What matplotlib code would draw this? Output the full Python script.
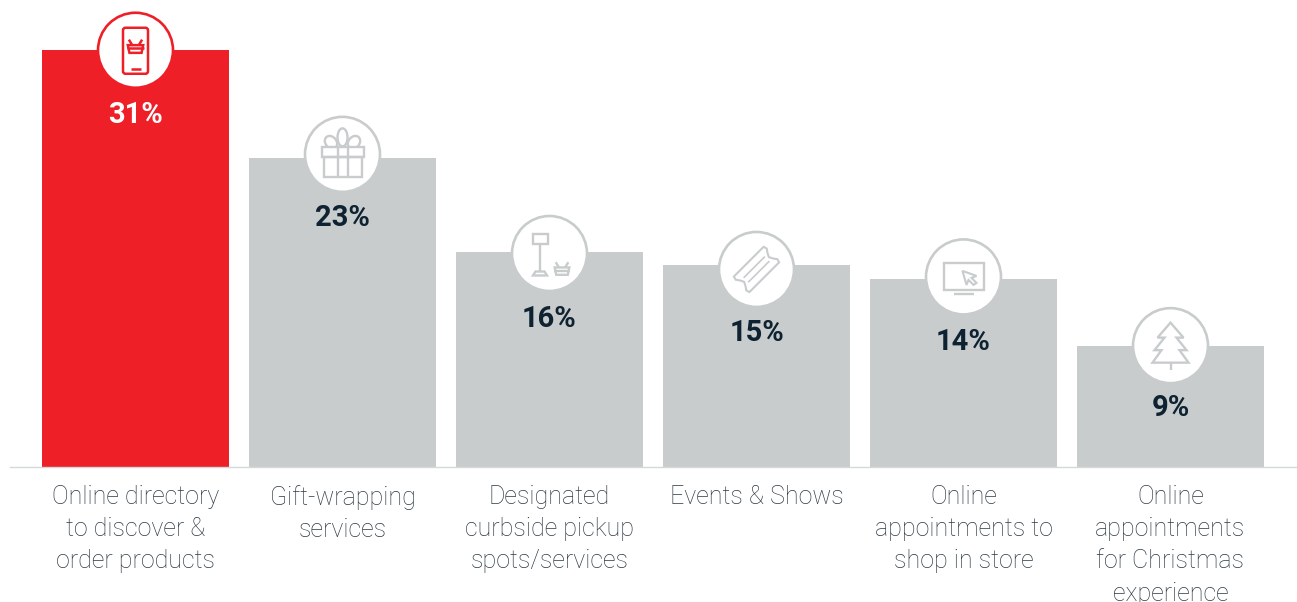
import matplotlib
matplotlib.use("Agg")
import matplotlib.pyplot as plt
from matplotlib.patches import Circle, Ellipse, Polygon, Rectangle, FancyBboxPatch
from matplotlib.transforms import Affine2D
import numpy as np

categories = ["Online directory\nto discover &\norder products",
              "Gift-wrapping\nservices",
              "Designated\ncurbside pickup\nspots/services",
              "Events & Shows",
              "Online\nappointments to\nshop in store",
              "Online\nappointments\nfor Christmas\nexperience"]
values = [31, 23, 16, 15, 14, 9]

RED = "#ee1f26"
GREY = "#c8cccd"
DARK = "#0e2231"
TEXT = "#2c3a43"

plt.rcParams["font.family"] = ["Roboto", "DejaVu Sans"]

fig = plt.figure(figsize=(12.97, 6.02), dpi=100)
ax = fig.add_axes([10/1297, 135/602, 1287/1297, 467/602])
ax.set_xlim(-125.5/207, 1161.5/207)
ax.set_ylim(0, 467/13.45)

colors = [RED] + [GREY]*5
ax.bar(range(len(values)), values, width=187/207, color=colors, linewidth=0)

for s in ["top", "left", "right"]:
    ax.spines[s].set_visible(False)
ax.spines["bottom"].set_color("#d5d8d9")
ax.spines["bottom"].set_linewidth(1)
ax.set_yticks([])
ax.set_xticks(range(len(values)))
ax.set_xticklabels(categories, fontsize=18, color=TEXT, fontweight="light", linespacing=1.43)
ax.tick_params(axis="x", length=0, pad=13)


def local(i, dy):
    # pixel space centred on the top of bar i, y pointing down
    x, y = ax.transData.transform((i, values[i]))
    return Affine2D().scale(1, -1).translate(x, y - dy)


def stroke(t, col, xs, ys, lw=1.7):
    ax.plot(xs, ys, color=col, lw=lw, transform=t, clip_on=False, zorder=5,
            solid_capstyle="butt", solid_joinstyle="miter")


def poly(t, col, pts, lw=1.7):
    ax.add_patch(Polygon(pts, closed=True, fill=False, edgecolor=col, lw=lw,
                         transform=t, clip_on=False, zorder=5))


def basket(t, col, cx, cy, s=1.0, lw=1.7):
    poly(t, col, [(cx-7*s, cy-1*s), (cx+7*s, cy-1*s), (cx+5.5*s, cy+6*s), (cx-5.5*s, cy+6*s)], lw)
    stroke(t, col, [cx-8*s, cx+8*s], [cy+2*s, cy+2*s], lw)
    stroke(t, col, [cx-6*s, cx-3*s], [cy-6*s, cy-1*s], lw)
    stroke(t, col, [cx+6*s, cx+3*s], [cy-6*s, cy-1*s], lw)


def icon_phone(t, col):
    ax.add_patch(FancyBboxPatch((-12.5, -22.5), 25, 46, boxstyle="round,pad=0,rounding_size=2.5",
                                fill=False, edgecolor=col, lw=1.8, transform=t, clip_on=False, zorder=5))
    basket(t, col, 0, -4, 1.1, 1.8)
    stroke(t, col, [-5, 5], [19, 19], 1.8)


def icon_gift(t, col):
    poly(t, col, [(-19, 3), (19, 3), (19, 23), (-19, 23)])
    stroke(t, col, [-5, -5], [-7, 23])
    stroke(t, col, [5, 5], [-7, 23])
    for cx, cy, w, h, a in [(0, -17, 10, 18, 0), (-11.5, -12, 11, 14, -40), (11.5, -12, 11, 14, 40)]:
        ax.add_patch(Ellipse((cx, cy), w, h, angle=a, fill=False, edgecolor=col, lw=1.7,
                             transform=t, clip_on=False, zorder=4.9))
    ax.add_patch(Rectangle((-21, -7), 42, 10, facecolor="white", edgecolor=col, lw=1.7,
                           transform=t, clip_on=False, zorder=4.95))


def icon_sign(t, col):
    poly(t, col, [(-17, -19), (-2, -19), (-2, -9), (-17, -9)])
    stroke(t, col, [-10, -10], [-9, 18])
    poly(t, col, [(-16.5, 22), (-2.5, 22), (-5, 18), (-14, 18)])
    basket(t, col, 12.5, 15, 1.05)


def icon_ticket(t, col):
    r = Affine2D().rotate_deg(-45) + t
    # scalloped ends along the long axis
    nx = np.array([-21, -22, -19.5, -17.5, -19.5, -22, -21])
    ny = np.array([-11, -7.5, -4, 0, 4, 7.5, 11])
    top = [(-21, -11), (21, -11)]
    right = list(zip(-nx, ny))
    bottom = [(21, 11), (-21, 11)]
    left = list(zip(nx, -ny))
    poly(r, col, top + right[1:-1] + bottom + left[1:-1], 1.5)
    stroke(r, col, [-15, 15], [-3.2, -3.2], 1.2)
    stroke(r, col, [-15, 15], [3.2, 3.2], 1.2)


def icon_monitor(t, col):
    poly(t, col, [(-20, -14), (20, -14), (20, 13.5), (-20, 13.5)])
    stroke(t, col, [-10, 10], [17.5, 17.5])
    poly(t, col, [(-1, -6), (13, -1), (8, 1), (13, 6), (10, 8), (5, 3), (3, 8)], 1.5)


def icon_tree(t, col):
    poly(t, col, [(0, -23), (13, -8), (6, -8), (16, 4.5), (9, 4.5), (18, 17), (-18, 17),
                  (-9, 4.5), (-16, 4.5), (-6, -8), (-13, -8)])
    stroke(t, col, [0, 0], [17, 24.5])


icons = [icon_phone, icon_gift, icon_sign, icon_ticket, icon_monitor, icon_tree]
circle_dy = [0.2, -3.3, 1.7, 4.2, -1.8, -0.3]
label_y = [115, 218, 319, 333, 342, 408]

for i, v in enumerate(values):
    col = colors[i]
    t = local(i, circle_dy[i])
    ax.add_patch(Circle((0, 0), 37.5, facecolor="white", edgecolor=col, lw=1.9,
                        transform=t, clip_on=False, zorder=4))
    icons[i](t, col)
    ax.text(i, (467 - label_y[i]) / 13.45, f"{v}%", ha="center", va="center", fontsize=21,
            fontweight="bold", color="white" if i == 0 else DARK, zorder=6)

fig.savefig("out.png", dpi=100)
